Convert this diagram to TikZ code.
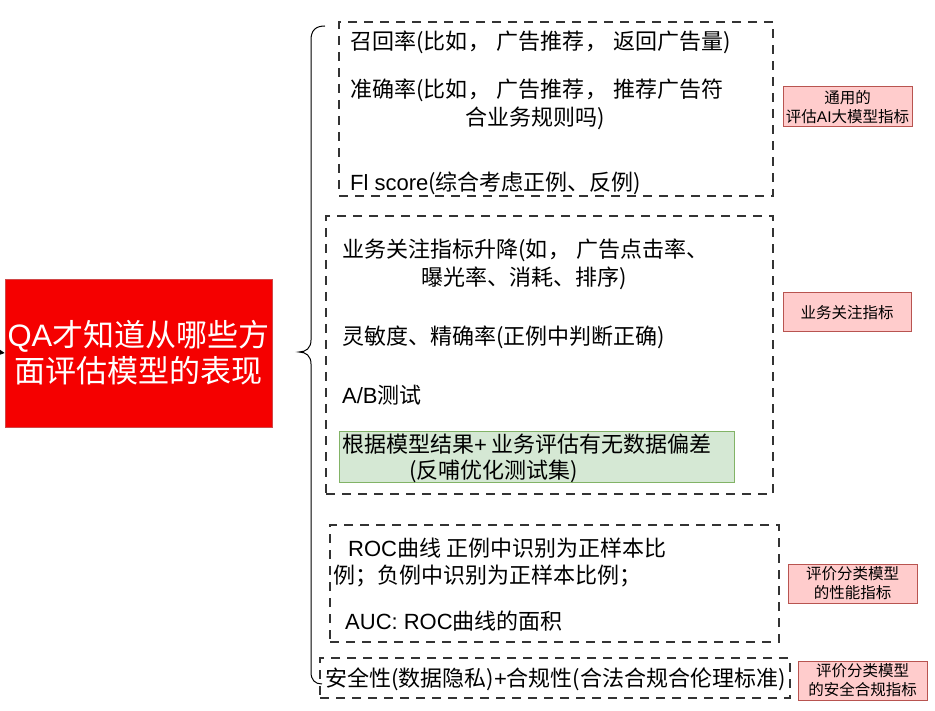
\documentclass[tikz,border=0pt]{standalone}
\usepackage{fontspec}
\setmainfont{Noto Sans CJK SC}
\newfontfamily\lat{Liberation Sans}
\usetikzlibrary{arrows.meta}
\definecolor{dashc}{HTML}{333333}
\definecolor{redfill}{HTML}{F50000}
\definecolor{redline}{HTML}{D04848}
\definecolor{tagfill}{HTML}{FFCCCC}
\definecolor{tagline}{HTML}{B85450}
\definecolor{greenfill}{HTML}{D5E8D4}
\definecolor{greenline}{HTML}{82B366}
\newcommand{\wcm}{\kern1pt，\kern6pt}
\begin{document}
\begin{tikzpicture}[x=1pt,y=-1pt,
  dashbox/.style={draw=dashc, line width=1.2pt, dash pattern=on 9pt off 7pt, inner sep=0pt},
  txt/.style={anchor=base west, inner sep=0pt, font=\fontsize{22}{27}\selectfont},
  tagbox/.style={draw=tagline, fill=tagfill, line width=1pt, align=center, inner sep=0pt,
    font=\fontsize{15.5}{19}\selectfont},
  bracestyle/.style={draw=black, line width=1pt}
]
\useasboundingbox (0,0) rectangle (935,711);

% main red box
\node[fill=redfill, draw=redline, line width=0.8pt, minimum width=267pt, minimum height=148pt,
  align=center, text=white, font=\fontsize{31}{36}\selectfont, inner sep=0pt] (main) at (138.5,353)
  {{\lat QA}才知道从哪些方\\面评估模型的表现};
\coordinate (src) at (-3,352);
\draw[-{Triangle[length=5pt,width=5pt]}, line width=0.8pt] (src) -- (main.west);

% brace
\draw[bracestyle] (325,26) .. controls (316,26) and (311,30) .. (311,40) -- (311,340)
  .. controls (311,348) and (306,352) .. (299,352)
  .. controls (306,352) and (311,356) .. (311,364) -- (311,672)
  .. controls (311,680) and (315,684) .. (322,684);

% dashed groups
\node[dashbox, minimum width=434pt, minimum height=174pt] (b1) at (556,109) {};
\node[dashbox, minimum width=447pt, minimum height=278pt] (b2) at (549.5,355) {};
\node[dashbox, minimum width=449pt, minimum height=117pt] (b3) at (554.5,583.5) {};
\node[dashbox, minimum width=470pt, minimum height=40pt] (b4) at (555,678) {};

% green box
\node[draw=greenline, fill=greenfill, line width=1pt, minimum width=395pt, minimum height=51pt, inner sep=0pt] (g) at (536.5,456.5) {};

% texts box 1
\node[txt] (t1) at (350,50) {召回率(比如\wcm 广告推荐\wcm 返回广告量)};
\node[txt] (t2) at (350,98) {准确率(比如\wcm 广告推荐\wcm 推荐广告符};
\node[txt] (t3) at (465,126) {合业务规则吗)};
\node[txt] (t4) at (350,191) {{\lat Fl score}(综合考虑正例、反例)};

% texts box 2
\node[txt] (t5) at (342,258) {业务关注指标升降(如\wcm 广告点击率、};
\node[txt] (t6) at (421,286) {曝光率、消耗、排序)};
\node[txt] (t7) at (342,345) {灵敏度、精确率(正例中判断正确)};
\node[txt] (t8) at (342,403) {{\lat A/B}测试};
\node[txt] (t9) at (342,452) {根据模型结果{\lat +} 业务评估有无数据偏差};
\node[txt] (t10) at (409,478) {(反哺优化测试集)};

% texts box 3
\node[txt] (t11) at (348,556) {{\lat ROC}曲线 正例中识别为正样本比};
\node[txt] (t12) at (333,583) {例；负例中识别为正样本比例；};
\node[txt] (t13) at (345,629) {{\lat AUC: ROC}曲线的面积};

% text box 4
\node[txt] (t14) at (325,686) {安全性(数据隐私){\lat +}合规性(合法合规合伦理标准)};

% tags
\node[tagbox, minimum width=129pt, minimum height=40pt] (l1) at (847.5,107) {通用的\\评估{\lat AI}大模型指标};
\node[tagbox, minimum width=128pt, minimum height=39pt] (l2) at (847,312.5) {业务关注指标};
\node[tagbox, minimum width=129pt, minimum height=39pt] (l3) at (852.5,583.5) {评价分类模型\\的性能指标};
\node[tagbox, minimum width=129pt, minimum height=39pt] (l4) at (862.5,680.5) {评价分类模型\\的安全合规指标};
\end{tikzpicture}
\end{document}
